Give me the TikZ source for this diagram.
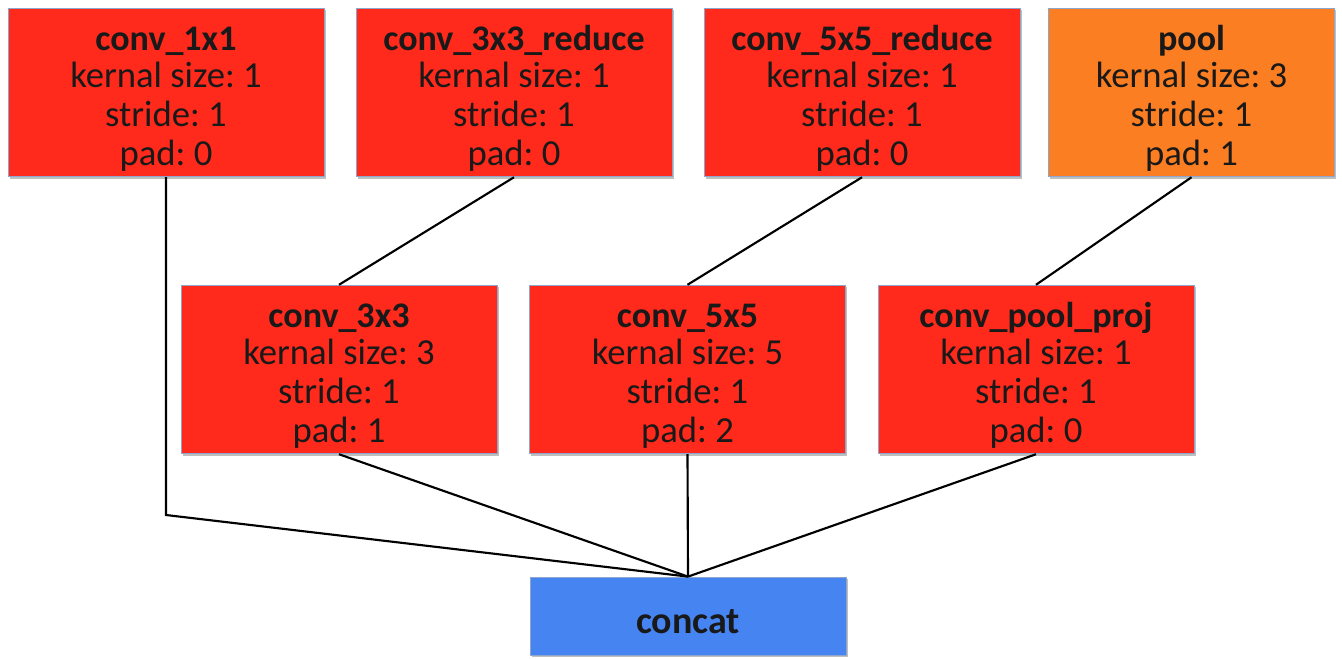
\documentclass[tikz,border=0pt]{standalone}
\usepackage{fontspec}
\setmainfont{Carlito}
\usetikzlibrary{shadows}
\definecolor{layerred}{HTML}{FF2A1C}
\definecolor{poolorange}{HTML}{FC7E22}
\definecolor{concatblue}{HTML}{4684F2}
\definecolor{boxedge}{HTML}{8FA6CC}
\tikzset{
  layer/.style={draw=boxedge, line width=0.6pt, fill=layerred,
    minimum width=237pt, minimum height=126.5pt, inner sep=0pt,
    align=center, text=black!90,
    font=\fontsize{27.5}{29.5}\selectfont\frenchspacing,
    drop shadow={shadow xshift=1.2pt, shadow yshift=-1.5pt, opacity=0.25, fill=black}},
  poolbox/.style={layer, fill=poolorange, minimum width=215pt},
  concatbox/.style={layer, fill=concatblue, minimum height=58.5pt},
  link/.style={draw=black, line width=1.6pt}
}
% title line sits a little closer to the parameter lines
\newcommand{\layertxt}[4]{\rule{0pt}{28pt}{\fontsize{27}{29.5}\selectfont\bfseries #1}\\[-2.25pt]kernal size: #2\\stride: #3\\pad: #4}
\begin{document}
\begin{tikzpicture}[x=0.75pt, y=-0.75pt]
  \useasboundingbox (0,0) rectangle (1342,658);
  % top row
  \node[layer]    (c1)   at (166,92.5)  {\layertxt{conv\_1x1}{1}{1}{0}};
  \node[layer]    (r3)   at (514,92.5)  {\layertxt{conv\_3x3\_reduce}{1}{1}{0}};
  \node[layer]    (r5)   at (862,92.5)  {\layertxt{conv\_5x5\_reduce}{1}{1}{0}};
  \node[poolbox]  (pool) at (1191.5,92.5) {\layertxt{pool}{3}{1}{1}};
  % middle row
  \node[layer]    (c3)   at (339,369.5) {\layertxt{conv\_3x3}{3}{1}{1}};
  \node[layer]    (c5)   at (687.5,369.5) {\layertxt{conv\_5x5}{5}{1}{2}};
  \node[layer]    (cp)   at (1036,369.5) {\layertxt{conv\_pool\_proj}{1}{1}{0}};
  % output
  \node[concatbox] (cat) at (688,616) {\rule{0pt}{26pt}{\fontsize{28.5}{30}\selectfont\bfseries concat}};
  \coordinate (bend) at (166,515);
  % connectors
  \draw[link] (r3.south) -- (c3.north);
  \draw[link] (r5.south) -- (c5.north);
  \draw[link] (pool.south) -- (cp.north);
  \draw[link] (c1.south) -- (bend) -- (cat.north);
  \draw[link] (c3.south) -- (cat.north);
  \draw[link] (c5.south) -- (cat.north);
  \draw[link] (cp.south) -- (cat.north);
\end{tikzpicture}
\end{document}
